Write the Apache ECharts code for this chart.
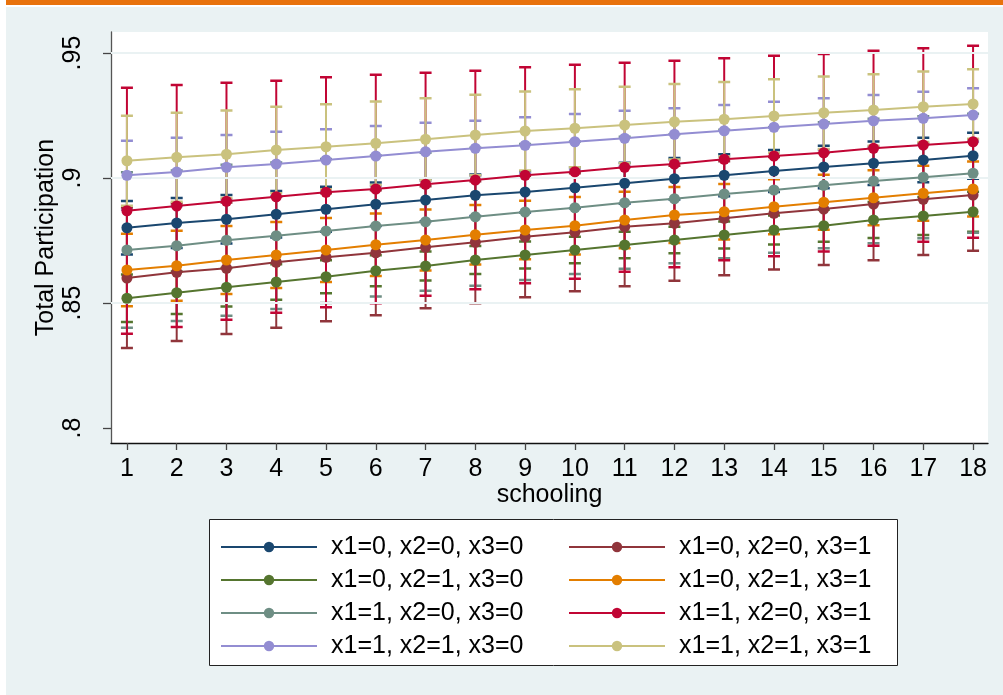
<!DOCTYPE html>
<html>
<head>
<meta charset="utf-8">
<script src="https://cdn.jsdelivr.net/npm/echarts@6/dist/echarts.min.js"></script>
<style>
html,body{margin:0;padding:0;background:#fff;}
#chart{width:1003px;height:695px;}
</style>
</head>
<body>
<div id="chart"></div>
<script>
// ---- data ----
const schooling = [1,2,3,4,5,6,7,8,9,10,11,12,13,14,15,16,17,18];
const xTicks = [1,2,3,4,5,6,7,8,9,10,11,12,13,14,15,16,17,18];
const yTicks = [0.8, 0.85, 0.9, 0.95];
const yTickLabels = ['.8', '.85', '.9', '.95'];
const gridValues = [0.85, 0.9, 0.95];

const seriesNames = [
  'x1=0, x2=0, x3=0', 'x1=0, x2=0, x3=1',
  'x1=0, x2=1, x3=0', 'x1=0, x2=1, x3=1',
  'x1=1, x2=0, x3=0', 'x1=1, x2=0, x3=1',
  'x1=1, x2=1, x3=0', 'x1=1, x2=1, x3=1'
];
const seriesColors = ['#1a476f','#90353b','#55752f','#e37e00','#6e8e84','#c10534','#938dd2','#cac27e'];

// margins (point estimates)
const m000 = [.8801,.8820,.8835,.8855,.8875,.8895,.8912,.8931,.8944,.8961,.8979,.8997,.9011,.9028,.9044,.9059,.9072,.9089];
const m001 = [.8600,.8623,.8639,.8663,.8683,.8701,.8723,.8743,.8765,.8783,.8805,.8819,.8839,.8859,.8876,.8896,.8915,.8932];
const m010 = [.8519,.8541,.8563,.8584,.8605,.8629,.8648,.8672,.8692,.8712,.8732,.8752,.8772,.8792,.8809,.8832,.8848,.8865];
const m011 = [.8632,.8649,.8672,.8692,.8712,.8733,.8752,.8773,.8792,.8809,.8832,.8852,.8865,.8885,.8903,.8921,.8939,.8956];
const m100 = [.8712,.8729,.8751,.8769,.8788,.8808,.8825,.8845,.8864,.8881,.8901,.8917,.8936,.8952,.8971,.8988,.9003,.9019];
const m101 = [.8869,.8888,.8907,.8925,.8943,.8956,.8975,.8992,.9011,.9025,.9043,.9056,.9075,.9088,.9101,.9119,.9132,.9145];
const m110 = [.9011,.9024,.9043,.9056,.9072,.9088,.9105,.9119,.9131,.9145,.9159,.9175,.9189,.9203,.9216,.9229,.9239,.9252];
const m111 = [.9069,.9083,.9095,.9112,.9125,.9139,.9155,.9172,.9188,.9199,.9212,.9225,.9235,.9248,.9261,.9272,.9285,.9296];

// confidence interval half-widths
const h000 = [.0107,.0100,.0097,.0093,.0090,.0087,.0085,.0083,.0082,.0082,.0082,.0083,.0084,.0084,.0085,.0087,.0089,.0092];
const h001 = [.0280,.0275,.0263,.0262,.0256,.0250,.0244,.0244,.0242,.0236,.0238,.0230,.0228,.0225,.0224,.0225,.0223,.0223];
const h010 = [.0095,.0085,.0077,.0071,.0066,.0062,.0058,.0056,.0054,.0053,.0053,.0053,.0054,.0058,.0064,.0072,.0076,.0080];
const h011 = [.0145,.0140,.0136,.0132,.0128,.0125,.0122,.0119,.0117,.0115,.0113,.0112,.0111,.0110,.0110,.0110,.0110,.0110];
const h100 = [.0311,.0301,.0302,.0293,.0288,.0282,.0276,.0276,.0272,.0265,.0264,.0258,.0257,.0251,.0252,.0249,.0244,.0238];
const h101 = [.0492,.0484,.0474,.0464,.0460,.0457,.0446,.0437,.0432,.0428,.0418,.0413,.0404,.0401,.0395,.0390,.0387,.0384];
const h110 = [.0138,.0137,.0129,.0129,.0123,.0120,.0116,.0110,.0112,.0111,.0110,.0104,.0103,.0102,.0103,.0103,.0106,.0107];
const h111 = [.0180,.0178,.0175,.0173,.0170,.0167,.0164,.0161,.0158,.0156,.0153,.0151,.0149,.0147,.0145,.0143,.0141,.0139];

const margins = [m000, m001, m010, m011, m100, m101, m110, m111];
const halfWidths = [h000, h001, h010, h011, h100, h101, h110, h111];

// ---- chart ----
const FONT = "'Liberation Sans', Arial, Helvetica, sans-serif";
const chart = echarts.init(document.getElementById('chart'), null, {renderer: 'canvas'});

const ciSeries = margins.map((m, i) => ({
  name: 'ci' + i,
  type: 'custom',
  z: 3,
  silent: true,
  clip: false,
  data: schooling.map((x, k) => [x, m[k] - halfWidths[i][k], m[k] + halfWidths[i][k]]),
  renderItem: function (params, api) {
    const x = api.value(0);
    const lo = api.coord([x, api.value(1)]);
    const hi = api.coord([x, api.value(2)]);
    const hw = 6;
    const col = seriesColors[i];
    return {
      type: 'group',
      children: [
        {type: 'line', shape: {x1: lo[0], y1: lo[1], x2: hi[0], y2: hi[1]}, style: {stroke: col, lineWidth: 2}},
        {type: 'line', shape: {x1: lo[0] - hw, y1: lo[1], x2: lo[0] + hw, y2: lo[1]}, style: {stroke: col, lineWidth: 2.5}},
        {type: 'line', shape: {x1: hi[0] - hw, y1: hi[1], x2: hi[0] + hw, y2: hi[1]}, style: {stroke: col, lineWidth: 2.5}}
      ]
    };
  }
}));

const lineSeries = margins.map((m, i) => ({
  name: seriesNames[i],
  type: 'line',
  z: 5,
  clip: false,
  data: schooling.map((x, k) => [x, m[k]]),
  symbol: 'circle',
  symbolSize: 11,
  showSymbol: true,
  itemStyle: {color: seriesColors[i]},
  lineStyle: {color: seriesColors[i], width: 2},
  emphasis: {disabled: true}
}));

const gridSeries = {
  name: 'grid',
  type: 'line',
  z: 1,
  data: [],
  silent: true,
  markLine: {
    silent: true,
    symbol: ['none', 'none'],
    label: {show: false},
    lineStyle: {color: '#eaf2f3', width: 2, type: 'solid'},
    data: gridValues.map(v => ({yAxis: v}))
  }
};

const legendCommon = {
  orient: 'vertical',
  itemWidth: 96,
  itemHeight: 13,
  itemGap: 5,
  selectedMode: false,
  textStyle: {fontSize: 25, color: '#000', fontFamily: FONT, lineHeight: 28, padding: [0, 0, 0, 9]}
};

const option = {
  backgroundColor: '#eaf2f3',
  animation: false,
  textStyle: {fontFamily: FONT},
  graphic: [
    {type: 'rect', z: 0, silent: true, shape: {x: 0, y: 0, width: 1003, height: 5}, style: {fill: '#e8720c'}},
    {type: 'rect', z: 0, silent: true, shape: {x: 0, y: 5, width: 1003, height: 2}, style: {fill: '#ffffff'}},
    {type: 'rect', z: 0, silent: true, shape: {x: 0, y: 0, width: 6, height: 695}, style: {fill: '#ffffff'}},
    {type: 'rect', z: 0, silent: true, shape: {x: 209.5, y: 519.5, width: 688, height: 146}, style: {fill: '#ffffff', stroke: '#222', lineWidth: 1}}
  ],
  grid: {
    left: 111, top: 32, right: 15, bottom: 252,
    show: true, backgroundColor: '#ffffff', borderWidth: 0
  },
  xAxis: {
    type: 'value',
    min: 0.68,
    max: 18.3,
    name: 'schooling',
    nameLocation: 'middle',
    nameGap: 40,
    nameMoveOverlap: false,
    nameTextStyle: {fontSize: 25, color: '#000', fontFamily: FONT},
    axisLine: {show: true, onZero: false, lineStyle: {color: '#111', width: 1.3}},
    axisTick: {show: true, customValues: xTicks, length: 7, lineStyle: {color: '#444', width: 1.3}},
    axisLabel: {customValues: xTicks, margin: 14, fontSize: 25, color: '#000', fontFamily: FONT},
    splitLine: {show: false}
  },
  yAxis: {
    type: 'value',
    min: 0.794,
    max: 0.9584,
    name: 'Total Participation',
    nameLocation: 'middle',
    nameRotate: 90,
    nameGap: 52,
    nameMoveOverlap: false,
    nameTextStyle: {fontSize: 25, color: '#000', fontFamily: FONT},
    axisLine: {show: true, onZero: false, lineStyle: {color: '#555', width: 1.3}},
    axisTick: {show: true, customValues: yTicks, length: 8, lineStyle: {color: '#444', width: 1.3}},
    axisLabel: {
      customValues: yTicks, rotate: 90, margin: 25, fontSize: 25, color: '#000', fontFamily: FONT,
      formatter: function (v) {
        const idx = yTicks.findIndex(t => Math.abs(t - v) < 1e-9);
        return idx >= 0 ? yTickLabels[idx] : '';
      }
    },
    splitLine: {show: false}
  },
  legend: [
    Object.assign({}, legendCommon, {left: 215, top: 528, data: [seriesNames[0], seriesNames[2], seriesNames[4], seriesNames[6]]}),
    Object.assign({}, legendCommon, {left: 563, top: 528, data: [seriesNames[1], seriesNames[3], seriesNames[5], seriesNames[7]]})
  ],
  series: [gridSeries].concat(ciSeries, lineSeries)
};

chart.setOption(option);
</script>
</body>
</html>
